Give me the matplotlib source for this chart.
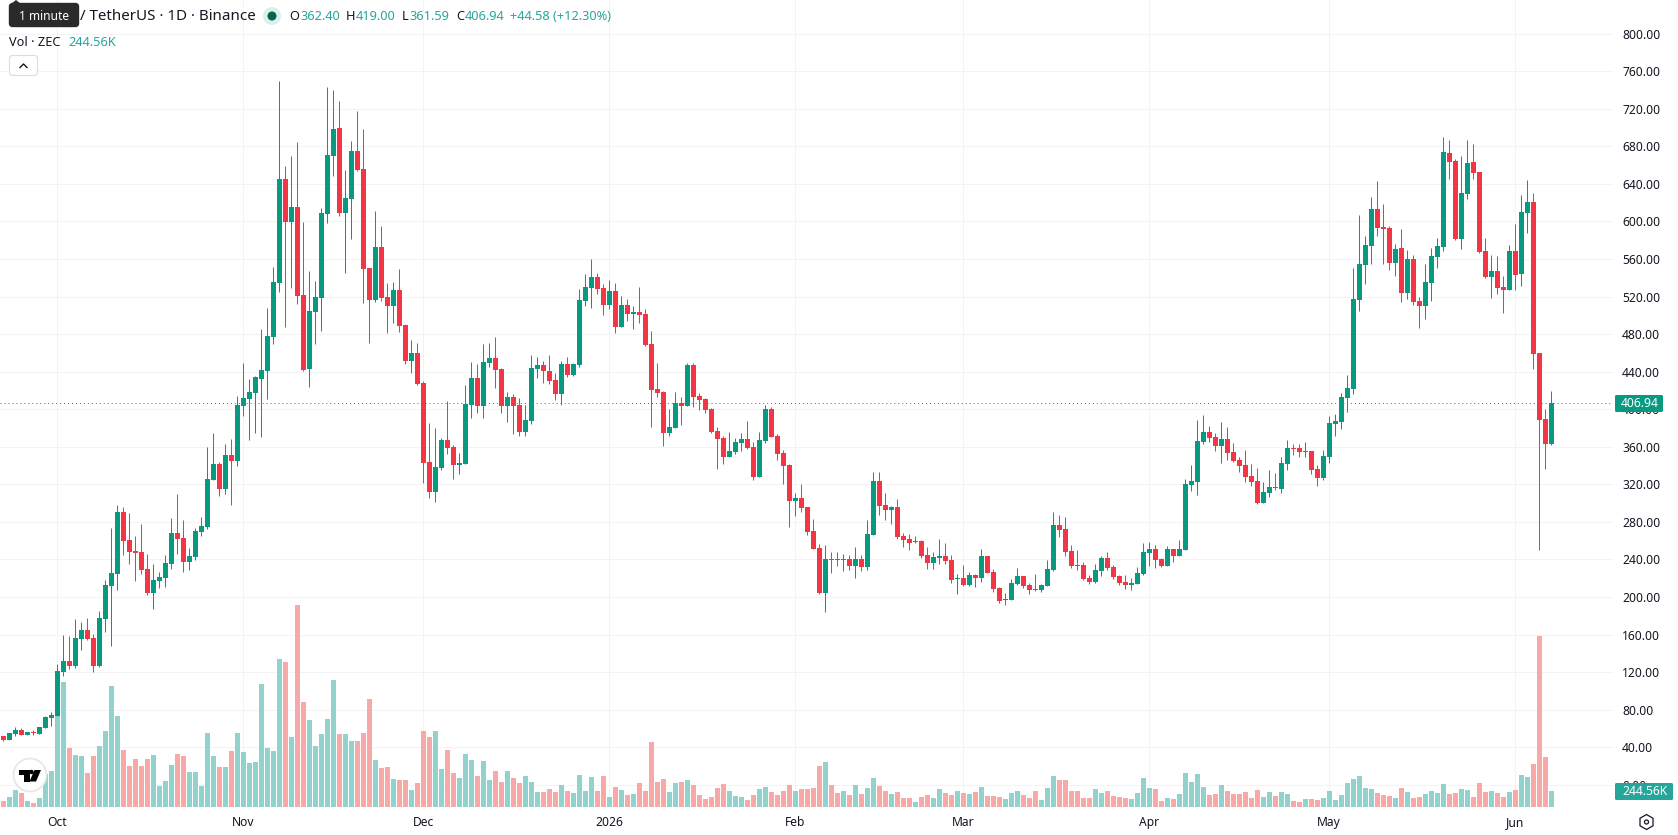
import numpy as np
import pandas as pd
import matplotlib
matplotlib.use('Agg')
import matplotlib.pyplot as plt
from matplotlib.patches import Circle, FancyBboxPatch, Polygon, RegularPolygon

plt.rcParams['font.family'] = ['Noto Sans', 'DejaVu Sans']

# ZEC/USDT daily candles, 22 Sep 2025 to 7 Jun 2026
opens = [
    52.0, 47.7, 54.1, 58.3, 53.0, 56.2, 54.1, 60.5, 71.1, 73.3,
    120.1, 131.8, 126.5, 155.3, 164.9, 156.3, 126.5, 176.6, 211.7, 224.5,
    290.5, 260.7, 249, 247.9, 229.8, 204.3, 217, 220.2, 235.1, 268.2,
    262.8, 237.3, 242.6, 269.2, 274.5, 324.6, 341.6, 315, 351.2, 344.8,
    403.4, 410.9, 417.3, 432.2, 440.7, 476.9, 534.4, 645.2, 599.4, 615.3,
    521.6, 442.8, 503.5, 518.4, 607.9, 669.7, 699.5, 608.9, 623.9, 675,
    655.8, 550.4, 516.3, 572.8, 519.5, 509.9, 527, 489.7, 451.3, 459.9,
    427.9, 343.8, 311.8, 337.4, 367.2, 359.7, 340.6, 341.6, 404.5, 433.2,
    403.4, 449.2, 454.5, 442.8, 403.4, 413, 404.5, 375.7, 387.4, 442.8,
    447, 440.7, 431.1, 416.2, 448.1, 436.4, 447, 515.2, 529.1, 540.8,
    529.1, 511, 525.9, 487.5, 511, 501.4, 503.5, 501.4, 469.4, 421.5,
    418.3, 374.7, 380, 406.6, 403.4, 447, 414, 410.9, 400.2, 376.8,
    369.3, 349.1, 354.4, 364, 368.3, 359.7, 327.8, 366.1, 400.2, 371.5,
    353.4, 340.6, 302.2, 305.4, 295.8, 270.3, 252.2, 204.3, 240.5, 240.5,
    239.4, 240.5, 233, 240.5, 231.9, 266, 323.5, 298, 292.7, 295.8,
    265, 261.8, 258.6, 259.6, 244.7, 236.2, 241.5, 243.7, 239.4, 219.2,
    220.2, 212.8, 223.4, 220.2, 243.7, 226.6, 209.6, 196.8, 196.8, 213.8,
    222.4, 212.8, 208.5, 207.5, 211.7, 228.8, 276.7, 272.4, 249, 234,
    234, 220.2, 216, 227.7, 241.5, 231.9, 222.4, 216, 212.8, 213.8,
    224.5, 246.9, 251.1, 240.5, 233, 251.1, 243.7, 250, 319.3, 322.5,
    365.1, 375.7, 370.4, 360.8, 368.3, 354.4, 345.9, 340.6, 328.9, 323.5,
    300.1, 310.8, 317.1, 315, 341.6, 358.7, 358.7, 354.4, 355.5, 336.3,
    326.7, 349.1, 384.2, 386.4, 411.9, 421.5, 516.3, 553.6, 573.8, 613.2,
    594, 593, 555.7, 571.7, 523.8, 560, 515.2, 509.9, 534.4, 562.1,
    572.7, 672.9, 664.3, 581.3, 629.2, 663.3, 652.6, 568.5, 540.8, 547.2,
    530.1, 527, 568.5, 544, 609, 620.7, 459.9, 389.6, 362.4,
]
highs = [
    52.0, 55.2, 61.5, 60.1, 56.2, 58, 61.5, 73.3, 77.5, 128.6,
    159.5, 158.5, 176.6, 173.4, 177.6, 160.6, 185.1, 218.1, 273.5, 298,
    295.8, 289.5, 265, 277.7, 245.8, 235.1, 226.6, 244.7, 284.1, 309.7,
    282, 252.2, 273.5, 285.2, 359.7, 374.7, 343.8, 363, 368.3, 414,
    449.2, 432.2, 435.4, 485.4, 507.8, 551.4, 749.5, 659, 669.7, 684.6,
    599.4, 547.2, 536.5, 614.3, 743.2, 740, 728.2, 654.8, 685.6, 717.6,
    698.4, 550.4, 611.1, 595.1, 534.4, 535.5, 549.3, 490.7, 473.7, 470.5,
    430, 385.3, 380, 369.3, 408.7, 361.9, 353.4, 425.8, 450.3, 448.1,
    469.4, 470.5, 476.9, 443.9, 418.3, 416.2, 411.9, 404.5, 457.7, 455.6,
    451.3, 457.7, 438.6, 451.3, 455.6, 449.2, 528, 544, 560, 545,
    533.4, 537.6, 534.4, 520.6, 517.4, 509.9, 530.1, 506.7, 483.3, 449.2,
    419.4, 400.2, 418.3, 413, 449.2, 449.2, 417.3, 411.9, 401.3, 381,
    371.5, 375.7, 369.3, 374.7, 387.4, 365.1, 375.7, 404.5, 402.3, 373.6,
    356.6, 341.6, 310.8, 320.3, 295.8, 283, 256.4, 255.4, 247.9, 247.9,
    245.8, 244.7, 253.2, 244.7, 282, 333.1, 333.1, 310.8, 296.9, 304.4,
    268.2, 267.1, 265, 260.7, 253.2, 247.9, 261.8, 257.5, 244.7, 224.5,
    234, 226.6, 224.5, 251.1, 243.7, 229.8, 210.7, 204.3, 219.2, 230.9,
    222.4, 214.9, 224.5, 213.8, 239.4, 290.5, 287.3, 285.2, 255.4, 250,
    237.3, 223.4, 235.1, 243.7, 247.9, 234, 223.4, 223.4, 220.2, 231.9,
    257.5, 258.6, 255.4, 241.5, 254.3, 251.1, 260.7, 325.7, 340.6, 388.5,
    393.8, 382.1, 374.7, 386.4, 381, 364, 349.1, 356.6, 341.6, 337.4,
    322.5, 335.2, 332, 349.1, 367.2, 362.9, 362.9, 365.1, 355.5, 340.6,
    356.6, 392.8, 394.9, 417.3, 436.4, 550.4, 606.8, 584.5, 626, 643,
    618.5, 595.1, 575.9, 591.9, 569.6, 564.2, 519.5, 554.6, 571.7, 582.3,
    689.9, 686.7, 666.5, 669.7, 686.7, 682.4, 652.6, 582.3, 564.2, 563.2,
    541.9, 574.9, 597.2, 628.1, 644.1, 630.3, 459.9, 400.2, 419,
]
lows = [
    46.6, 47.7, 52, 53, 53, 53, 54.1, 60.5, 62.6, 73.3,
    115.9, 123.3, 124.4, 143.6, 154.2, 120.1, 125.4, 162.7, 147.8, 207.5,
    244.7, 235.1, 217, 224.5, 202.1, 187.2, 209.6, 210.6, 229.8, 245.8,
    226.6, 228.8, 239.4, 265, 272.4, 324.6, 307.6, 309.7, 298, 339.5,
    392.8, 367.2, 374.7, 370.4, 410.9, 469.4, 524.8, 487.5, 529, 512,
    440.7, 423.6, 469.4, 483.3, 598.3, 648.4, 605.8, 545, 581.3, 653.7,
    513.1, 470.5, 514.2, 515.2, 481.2, 491.8, 482.2, 448.1, 438.6, 425.8,
    321.4, 305.4, 301.2, 335.2, 352.3, 325.7, 331, 341.6, 390.6, 396,
    390.6, 445, 422.6, 396, 386.4, 373.6, 371.5, 371.5, 384.2, 433.2,
    427.9, 426.8, 409.8, 404.5, 434.3, 435.4, 445, 509.9, 507.8, 522.7,
    500.3, 506.7, 481.2, 487.5, 493.9, 485.4, 491.8, 467.3, 381, 413,
    360.8, 371.5, 380, 383.2, 403.4, 402.3, 399.2, 396, 374.7, 336.3,
    341.6, 349.1, 352.3, 355.5, 357.6, 324.6, 327.8, 364, 370.4, 345.9,
    320.3, 274.5, 286.3, 290.5, 266, 251.1, 203.2, 184, 225.6, 233,
    227.7, 228.8, 220.2, 227.7, 228.8, 266, 287.3, 282, 277.7, 261.8,
    253.2, 250, 257.5, 241.5, 229.8, 229.8, 235.1, 235.1, 214.9, 203.2,
    211.7, 211.7, 210.7, 216, 225.6, 205.3, 193.6, 191.5, 196.8, 212.8,
    209.6, 203.2, 206.4, 205.3, 211.7, 227.7, 263.9, 243.7, 230.9, 228.8,
    218.1, 213.8, 214.9, 222.4, 228.8, 219.2, 212.8, 208.5, 207.5, 213.8,
    223.4, 233, 230.9, 231.9, 233, 237.3, 243.7, 250, 312.9, 308.6,
    363, 365.1, 355.5, 342.7, 345.9, 343.8, 333.1, 322.5, 318.2, 299,
    300.1, 306.5, 314, 310.8, 335.2, 351.2, 349.1, 349.1, 331, 318.2,
    324.6, 342.7, 371.5, 379, 397, 416.2, 504.6, 533.3, 554.6, 584.5,
    554.6, 548.3, 541.9, 514.2, 517.4, 511, 486.5, 496.1, 515.2, 550.4,
    568.5, 645.2, 580.2, 570.6, 623.9, 645.2, 566.4, 539.7, 518.4, 522.7,
    502.5, 527, 527, 531.2, 587.7, 442.8, 250, 336.3, 361.59,
]
closes = [
    47.7, 55.2, 58.3, 53, 56.2, 55.2, 61.5, 72.2, 74.3, 121.2,
    131.8, 126.5, 156.3, 164.9, 155.3, 126.5, 177.6, 212.8, 225.6, 290.5,
    259.6, 247.9, 246.9, 228.8, 204.3, 218.1, 221.3, 236.2, 268.2, 261.8,
    237.3, 243.7, 270.3, 275.6, 325.7, 341.6, 315, 351.2, 344.8, 404.5,
    411.9, 418.3, 434.3, 441.8, 478, 535.5, 645.2, 599.4, 615.3, 520.6,
    441.8, 504.6, 519.5, 608.9, 670.7, 698.4, 608.9, 624.9, 675, 654.8,
    549.3, 516.3, 572.8, 518.4, 509.9, 527, 488.6, 451.3, 459.9, 426.8,
    342.7, 311.8, 338.4, 367.2, 358.7, 340.6, 342.7, 405.9, 433.2, 403.4,
    450.3, 454.5, 441.8, 403.4, 413, 403.4, 375.7, 388.5, 443.9, 447,
    440.7, 430, 416.2, 448.1, 436.4, 448.1, 516.3, 530.1, 540.8, 528,
    511, 525.9, 487.5, 511, 501.4, 503.5, 500.3, 468.4, 420.4, 417.3,
    374.7, 381, 406.6, 403.4, 447, 413, 409.8, 399.2, 375.7, 368.3,
    349.1, 355.5, 365.1, 368.3, 358.7, 327.8, 367.2, 400.2, 370.4, 352.3,
    339.5, 302.2, 305.4, 294.8, 269.2, 251.1, 204.3, 240.5, 239.4, 239.4,
    240.5, 233, 240.5, 231.9, 267.1, 323.5, 296.9, 292.7, 295.8, 263.9,
    260.7, 257.5, 259.6, 243.7, 236.2, 242.6, 243.7, 238.3, 218.1, 220.2,
    212.8, 223.4, 220.2, 243.7, 225.6, 208.5, 195.7, 197.9, 214.9, 222.4,
    211.7, 207.5, 207.5, 212.8, 229.8, 276.7, 271.4, 247.9, 233, 233,
    219.2, 216, 228.8, 241.5, 230.9, 221.3, 214.9, 212.8, 214.9, 225.6,
    247.9, 251.1, 239.4, 233, 251.1, 243.7, 251.1, 320.3, 323.5, 366.1,
    375.7, 369.3, 360.8, 368.3, 353.4, 344.8, 339.5, 327.8, 322.5, 300.1,
    311.8, 317.1, 316.1, 342.7, 358.7, 357.6, 354.4, 355.5, 335.2, 326.7,
    350.2, 385.3, 387.4, 413, 422.6, 517.4, 554.6, 574.9, 613.2, 593,
    591.9, 555.7, 570.6, 523.8, 560, 514.2, 509.9, 535.5, 563.2, 573.8,
    673.9, 663.3, 581.3, 630.3, 662.2, 651.6, 567.4, 540.8, 547.2, 529.1,
    527, 568.5, 542.9, 610, 620.7, 458.8, 388.5, 362.4, 406.94,
]
# daily volume, thousands of ZEC
volumes_k = [
    87, 148, 255, 209, 87, 56, 133, 500, 546, 1387,
    1907, 898, 790, 775, 515, 775, 928, 1158, 1846, 1387,
    867, 622, 729, 622, 729, 790, 316, 393, 638, 806,
    775, 530, 530, 316, 1127, 775, 607, 607, 852, 1127,
    836, 668, 683, 1877, 898, 852, 2259, 2213, 1066, 3086,
    1601, 1326, 928, 1112, 1341, 1938, 1112, 1112, 1005, 1005,
    1127, 1647, 714, 592, 607, 423, 408, 408, 255, 362,
    1163, 1071, 1163, 581, 872, 520, 444, 811, 719, 474,
    704, 413, 551, 383, 551, 444, 367, 474, 383, 230,
    230, 275, 230, 337, 245, 214, 490, 245, 459, 245,
    474, 153, 306, 260, 184, 199, 367, 245, 995, 383,
    428, 230, 367, 383, 413, 337, 184, 122, 153, 291,
    352, 245, 168, 153, 107, 184, 275, 306, 230, 184,
    245, 337, 245, 275, 275, 291, 627, 689, 337, 214,
    245, 184, 337, 199, 291, 444, 321, 245, 199, 230,
    138, 138, 77, 153, 184, 138, 275, 214, 184, 245,
    214, 199, 230, 306, 168, 168, 153, 122, 214, 245,
    184, 138, 245, 107, 291, 474, 413, 413, 245, 245,
    138, 138, 275, 214, 245, 168, 153, 138, 122, 214,
    444, 291, 275, 92, 138, 122, 199, 520, 383, 505,
    306, 184, 199, 337, 245, 199, 199, 230, 138, 260,
    153, 230, 168, 230, 199, 92, 77, 122, 122, 107,
    138, 245, 107, 184, 367, 428, 474, 291, 275, 214,
    184, 168, 138, 291, 230, 138, 153, 199, 245, 214,
    352, 199, 214, 275, 260, 153, 367, 230, 245, 214,
    153, 230, 260, 490, 459, 658, 2616, 765, 244.56,
]
price_ticks = list(range(0, 801, 40))
month_dates = ['2025-10-01', '2025-11-01', '2025-12-01', '2026-01-01', '2026-02-01',
               '2026-03-01', '2026-04-01', '2026-05-01', '2026-06-01']
month_labels = ['Oct', 'Nov', 'Dec', '2026', 'Feb', 'Mar', 'Apr', 'May', 'Jun']

GREEN = '#089981'
RED = '#F23645'
VOL_GREEN = '#92D2CC'
VOL_RED = '#F7A9A7'
GRID = '#F2F3F5'
TEXT = '#131722'
TEAL = '#26A69A'

W, H = 1678, 835
PANE_W, PANE_H = 1613, 807
# one device pixel, a hair under 0.72pt so the snapper keeps it on a pixel centre
HAIR = 0.715

dates = pd.date_range('2025-09-22', periods=len(opens), freq='D')
o = np.array(opens, dtype=float)
h = np.array(highs, dtype=float)
l = np.array(lows, dtype=float)
c = np.array(closes, dtype=float)
vol = np.array(volumes_k, dtype=float)
up = c >= o

fig = plt.figure(figsize=(W / 100, H / 100), dpi=100, facecolor='white')
ax = fig.add_axes([0, 1 - PANE_H / H, PANE_W / W, PANE_H / H])

# volume hangs off the bottom of the pane, scaled into price units
y_min, y_max = -23.7, 835.8
vol_scale = 0.0696
width = 5 / 6
colors = np.where(up, GREEN, RED)
ax.bar(dates, vol * vol_scale, bottom=y_min, width=width,
       color=np.where(up, VOL_GREEN, VOL_RED), linewidth=0, zorder=2)
wicks = ax.vlines(dates, l, h, colors=colors, linewidth=HAIR, zorder=3)
wicks.set_snap(True)
ax.bar(dates, np.abs(c - o), bottom=np.minimum(o, c), width=width,
       color=colors, linewidth=0, zorder=4)
last_line = ax.axhline(closes[-1], color=GREEN, linewidth=HAIR, linestyle=(0, (1, 3)), zorder=5)
last_line.set_snap(True)

ax.set_ylim(y_min, y_max)
ax.set_xlim(pd.Timestamp('2025-10-01') - pd.Timedelta(days=57.2 / 6),
            pd.Timestamp('2025-10-01') + pd.Timedelta(days=(PANE_W - 57.2) / 6))
ax.yaxis.tick_right()
ax.set_yticks(price_ticks)
ax.set_yticklabels([f'{t:.2f}' for t in price_ticks], fontsize=8.7, color=TEXT)
ax.set_xticks(pd.to_datetime(month_dates))
ax.set_xticklabels(month_labels, fontsize=8.7, color=TEXT)
ax.get_xticklabels()[3].set_fontweight('bold')
ax.tick_params(axis='both', length=0)
ax.tick_params(axis='y', pad=6.5)
ax.tick_params(axis='x', pad=6.2)
ax.grid(True, color=GRID, linewidth=HAIR, zorder=0)
ax.set_axisbelow(True)
for s in ax.spines.values():
    s.set_visible(False)

# header, price tags and icons sit on a pixel-addressed overlay
ov = fig.add_axes([0, 0, 1, 1], zorder=10)
ov.set_xlim(0, W)
ov.set_ylim(H, 0)
ov.axis('off')
ov.patch.set_alpha(0)

ov.text(80, 17, '/ TetherUS · 1D · Binance', fontsize=10.9, color=TEXT, va='center')
ov.add_patch(FancyBboxPatch((9.5, 3.5), 69, 23, boxstyle='round,pad=0,rounding_size=3',
                            fc='#2A2A2A', ec='#2A2A2A', lw=1))
ov.add_patch(Polygon([(11, 4), (16, 0), (21, 4)], fc='#2A2A2A', ec='none'))
ov.text(44, 16, '1 minute', fontsize=8.6, color='white', ha='center', va='center')

ov.add_patch(Circle((272, 16), 9, fc='#D9EFEB', ec='none'))
ov.add_patch(Circle((272, 16), 4.5, fc='#06614F', ec='none'))
ohlc_parts = [(289, 'O', TEXT), (300, '362.40', TEAL), (346, 'H', TEXT), (356, '419.00', TEAL),
              (402, 'L', TEXT), (409.5, '361.59', TEAL), (456, 'C', TEXT), (464.5, '406.94', TEAL),
              (510, '+44.58 (+12.30%)', TEAL)]
for px, s, col in ohlc_parts:
    ov.text(px, 17, s, fontsize=9.2, color=col, va='center')
ov.text(9, 42, 'Vol · ZEC', fontsize=9.2, color=TEXT, va='center')
ov.text(68.5, 42, '244.56K', fontsize=9.2, color=TEAL, va='center')

# collapse button
ov.add_patch(FancyBboxPatch((9.5, 55.5), 28, 20, boxstyle='round,pad=0,rounding_size=3',
                            fc='white', ec='#DADCE0', lw=0.8))
ov.plot([20, 23.5, 27], [67.5, 64, 67.5], color=TEXT, lw=1.0)

# current price and volume tags
ov.add_patch(FancyBboxPatch((1615, 395), 48, 17, boxstyle='round,pad=0,rounding_size=1.5',
                            fc=GREEN, ec='none'))
ov.text(1640, 403.5, '406.94', fontsize=8.7, color='white', ha='center', va='center')
ov.add_patch(FancyBboxPatch((1615, 783), 58, 17, boxstyle='round,pad=0,rounding_size=1.5',
                            fc=TEAL, ec='none'))
ov.text(1644.5, 791.5, '244.56K', fontsize=8.7, color='white', ha='center', va='center')

# settings gear
ov.add_patch(RegularPolygon((1646.5, 822), 6, radius=7.5, fc='white', ec=TEXT, lw=0.9))
ov.add_patch(Circle((1646.5, 822), 2, fc='white', ec=TEXT, lw=0.9))

# logo badge
ov.add_patch(Circle((30, 775), 16.5, fc='white', ec='#E6E6E6', lw=1.2))
ov.add_patch(Polygon([(19, 770), (29.5, 770), (29.5, 781.5), (23.5, 781.5), (23.5, 774.5), (19, 774.5)],
                     fc='black', ec='none'))
ov.add_patch(Circle((31.5, 772), 2.2, fc='black', ec='none'))
ov.add_patch(Polygon([(34.5, 770), (41, 770), (36, 781.5), (29.5, 781.5)], fc='black', ec='none'))

fig.savefig('out.png', dpi=100, facecolor='white')
